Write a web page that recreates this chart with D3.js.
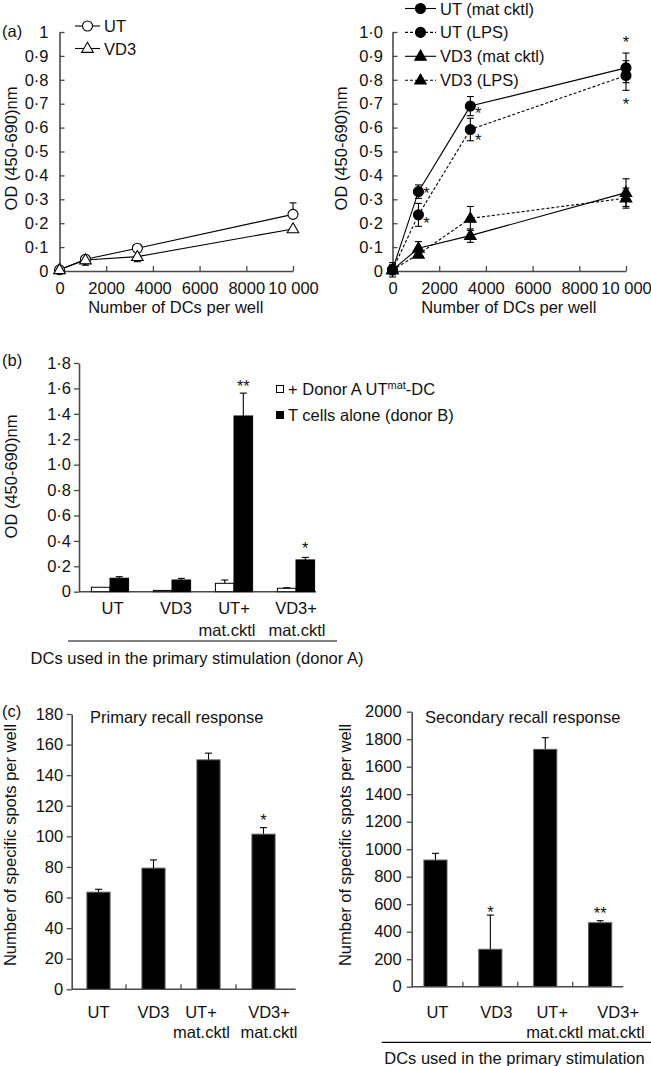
<!DOCTYPE html>
<html>
<head>
<meta charset="utf-8">
<script src="https://cdn.jsdelivr.net/npm/d3@7/dist/d3.min.js"></script>
<style>
  body { margin: 0; background: #fff; }
  svg text { font-family: "Liberation Sans", Arial, Helvetica, sans-serif; fill: #111; }
</style>
</head>
<body>
<script>
//////////////////////////////////////////////////////////////////////////////
// Data

// (a) OD vs number of DCs per well
const doses = [0, 1111, 3333, 10000];
const doseTicks = [0, 2000, 4000, 6000, 8000, 10000];
const doseTickLabels = ["0", "2000", "4000", "6000", "8000", "10 000"];
const odTicksA = [0, 0.1, 0.2, 0.3, 0.4, 0.5, 0.6, 0.7, 0.8, 0.9, 1.0];

const utOpen = [0.005, 0.049, 0.095, 0.237];
const utOpenErr = [0, 0.005, 0.01, 0.048];
const vd3Open = [0.005, 0.046, 0.06, 0.176];
const vd3OpenErr = [0, 0.022, 0.021, 0.012];

const utMat = [0.005, 0.332, 0.69, 0.85];
const utMatErr = [0.03, 0.028, 0.04, 0.062];
const utLps = [0.005, 0.235, 0.592, 0.818];
const utLpsErr = [0.02, 0.048, 0.047, 0.062];
const vd3Mat = [0.005, 0.095, 0.148, 0.328];
const vd3MatErr = [0.02, 0.028, 0.028, 0.058];
const vd3Lps = [0.005, 0.07, 0.22, 0.305];
const vd3LpsErr = [0.01, 0.012, 0.05, 0.042];

// asterisks (centre of the glyph, data units)
const starsA = [
  { dose: 1111, od: 0.342, side: "right" },
  { dose: 1111, od: 0.216, side: "right" },
  { dose: 3333, od: 0.674, side: "right" },
  { dose: 3333, od: 0.562, side: "right" },
  { dose: 10000, od: 0.974, side: "centre" },
  { dose: 10000, od: 0.715, side: "centre" }
];

// (b) mixed lymphocyte reaction
const groups = ["UT", "VD3", "UT+", "VD3+"];
const groupsSub = ["", "", "mat.cktl", "mat.cktl"];
const odTicksB = [0, 0.2, 0.4, 0.6, 0.8, 1.0, 1.2, 1.4, 1.6, 1.8];
const donorA = [0.035, 0.01, 0.066, 0.027];
const donorAErr = [0, 0, 0.026, 0.004];
const tAlone = [0.106, 0.092, 1.383, 0.25];
const tAloneErr = [0.012, 0.013, 0.18, 0.02];
const starsB = [
  { group: "UT+", od: 1.646, text: "**" },
  { group: "VD3+", od: 0.368, text: "*" }
];

// (c) recall responses
const primary = [63.5, 79.2, 150, 101.4];
const primaryErr = [1.9, 5.4, 4.4, 4.3];
const primaryTicks = [0, 20, 40, 60, 80, 100, 120, 140, 160, 180];
const primaryStars = [{ group: "VD3+", v: 113, text: "*" }];

const secondary = [921, 272, 1726, 465];
const secondaryErr = [49, 249, 85, 15];
const secondaryTicks = [0, 200, 400, 600, 800, 1000, 1200, 1400, 1600, 1800, 2000];
const secondaryStars = [
  { group: "VD3", v: 568, text: "*" },
  { group: "VD3+", v: 563, text: "**" }
];

//////////////////////////////////////////////////////////////////////////////
// Canvas and helpers

const FS = 16.5;
const svg = d3.select("body").append("svg")
    .attr("width", 651)
    .attr("height", 1066);

const fmtDot = d => d === 0 ? "0" : d3.format(".1f")(d).replace(".", "\u00b7");

function styleAxis(g) {
  g.attr("font-size", FS).attr("font-family", null);
  g.select(".domain").attr("stroke", "#4a4a4a").attr("stroke-width", 1.6);
  g.selectAll(".tick line").attr("stroke", "#4a4a4a").attr("stroke-width", 1.3);
}

function errBar(g, x, y0, y1) {
  g.append("line").attr("x1", x).attr("x2", x).attr("y1", y0).attr("y2", y1)
      .attr("stroke", "#000").attr("stroke-width", 1.1);
  g.append("line").attr("x1", x - 3.5).attr("x2", x + 3.5).attr("y1", y1).attr("y2", y1)
      .attr("stroke", "#000").attr("stroke-width", 1.1);
}

function marker(g, type, filled, x, y) {
  const m = type === "circle"
    ? g.append("circle").attr("cx", x).attr("cy", y).attr("r", 5)
    : g.append("path").attr("d", d3.symbol().type(d3.symbolTriangle).size(58)())
        .attr("transform", `translate(${x},${y + 0.5})`);
  m.attr("fill", filled ? "#000" : "#fff").attr("stroke", "#000").attr("stroke-width", 1.1);
}

function text(x, y, str, anchor, size) {
  return svg.append("text").attr("x", x).attr("y", y)
      .attr("font-size", size || FS)
      .attr("text-anchor", anchor || "start")
      .text(str);
}

function vLabel(x, y, str) {
  svg.append("text")
      .attr("transform", `translate(${x},${y}) rotate(-90)`)
      .attr("font-size", FS)
      .attr("text-anchor", "middle")
      .text(str);
}

//////////////////////////////////////////////////////////////////////////////
// (a) line panels

function linePanel(cfg) {
  const x = d3.scaleLinear().domain([0, 10000]).range(cfg.xRange);
  const y = d3.scaleLinear().domain([0, 1]).range([271, 32]);
  const g = svg.append("g");

  g.append("g")
      .attr("transform", `translate(0,${y(0)})`)
      .call(d3.axisBottom(x).tickValues(doseTicks).tickFormat((d, i) => doseTickLabels[i])
        .tickSize(-5).tickSizeOuter(0).tickPadding(11))
      .call(styleAxis);
  g.append("g")
      .attr("transform", `translate(${x(0)},0)`)
      .call(d3.axisLeft(y).tickValues(odTicksA).tickFormat(cfg.yFmt)
        .tickSize(-5).tickSizeOuter(0).tickPadding(cfg.yPad))
      .call(styleAxis);

  const line = d3.line().x((d, i) => x(doses[i])).y(d => y(d));

  cfg.series.forEach(s => {
    s.values.forEach((v, i) => {
      const e = s.err[i];
      if (!e) return;
      const dirs = s.errDir === "both" ? [1, -1] : s.errDir === "up" ? [1] : [-1];
      dirs.forEach(k => errBar(g, x(doses[i]), y(v), y(v + k * e)));
    });
  });

  cfg.series.forEach(s => {
    g.append("path")
        .attr("d", line(s.values))
        .attr("fill", "none")
        .attr("stroke", "#000")
        .attr("stroke-width", 1.1)
        .attr("stroke-dasharray", s.dashed ? "3,2" : null);
  });

  cfg.series.forEach(s => {
    s.values.forEach((v, i) => marker(g, s.marker, s.filled, x(doses[i]), y(v)));
  });

  // legend
  const L = cfg.legend;
  cfg.series.forEach((s, i) => {
    const ly = L.y + i * L.dy;
    g.append("line").attr("x1", L.x0).attr("x2", L.x1).attr("y1", ly).attr("y2", ly)
        .attr("stroke", "#000").attr("stroke-width", 1.1)
        .attr("stroke-dasharray", s.dashed ? "3,2" : null);
    marker(g, s.marker, s.filled, (L.x0 + L.x1) / 2, ly);
    text(L.x1 + 4, ly + 6, s.name);
  });

  (cfg.stars || []).forEach(st => {
    text(x(st.dose) + (st.side === "right" ? 8 : 0), y(st.od) + 9.5, "*", "middle");
  });

  text((cfg.xRange[0] + cfg.xRange[1]) / 2 - 0.5, 312.5, "Number of DCs per well", "middle");
  vLabel(cfg.yLabelX, 148.5, "OD (450-690)nm");
}

linePanel({
  xRange: [59.5, 293],
  yFmt: d => d === 1 ? "1" : fmtDot(d),
  yPad: 11,
  yLabelX: 17,
  legend: { x0: 75, x1: 100, y: 26, dy: 22.5 },
  series: [
    { name: "UT", values: utOpen, err: utOpenErr, errDir: "up", marker: "circle", filled: false },
    { name: "VD3", values: vd3Open, err: vd3OpenErr, errDir: "down", marker: "triangle", filled: false }
  ]
});

linePanel({
  xRange: [392.5, 626],
  yFmt: d => d === 1 ? "1\u00b70" : fmtDot(d),
  yPad: 9.5,
  yLabelX: 347,
  legend: { x0: 405, x1: 436, y: 8.5, dy: 23.9 },
  stars: starsA,
  series: [
    { name: "UT (mat cktl)", values: utMat, err: utMatErr, errDir: "both", marker: "circle", filled: true },
    { name: "UT (LPS)", values: utLps, err: utLpsErr, errDir: "both", marker: "circle", filled: true, dashed: true },
    { name: "VD3 (mat cktl)", values: vd3Mat, err: vd3MatErr, errDir: "both", marker: "triangle", filled: true },
    { name: "VD3 (LPS)", values: vd3Lps, err: vd3LpsErr, errDir: "both", marker: "triangle", filled: true, dashed: true }
  ]
});

text(2, 37, "(a)");

//////////////////////////////////////////////////////////////////////////////
// (b) grouped bars

{
  const y = d3.scaleLinear().domain([0, 1.8]).range([591.7, 363]);
  const x = d3.scaleBand().domain(groups).range([79, 327]).paddingInner(0.4).paddingOuter(0.2);
  const xi = d3.scaleBand().domain(["a", "t"]).range([0, x.bandwidth()]);
  const g = svg.append("g");

  g.append("g")
      .attr("transform", `translate(79,0)`)
      .call(d3.axisLeft(y).tickValues(odTicksB).tickFormat(fmtDot)
        .tickSize(5).tickSizeOuter(0).tickPadding(3))
      .call(styleAxis);
  g.append("line").attr("x1", 79).attr("x2", 316).attr("y1", y(0)).attr("y2", y(0))
      .attr("stroke", "#4a4a4a").attr("stroke-width", 1.6);

  groups.forEach((grp, i) => {
    [["a", donorA, donorAErr, "#fff"], ["t", tAlone, tAloneErr, "#000"]].forEach(([k, vals, errs, fill]) => {
      const bx = x(grp) + xi(k);
      g.append("rect")
          .attr("x", bx).attr("width", xi.bandwidth())
          .attr("y", y(vals[i])).attr("height", y(0) - y(vals[i]))
          .attr("fill", fill).attr("stroke", "#000").attr("stroke-width", 1);
      if (errs[i]) errBar(g, bx + xi.bandwidth() / 2, y(vals[i]), y(vals[i] + errs[i]));
    });
  });

  starsB.forEach(st => {
    text(x(st.group) + xi("t") + xi.bandwidth() / 2, y(st.od) + 9.5, st.text, "middle");
  });

  const dx1 = [2.5, 4, 0, 0], dx2 = [0, 0, -7, 1];
  groups.forEach((grp, i) => {
    const cx = x(grp) + x.bandwidth() / 2;
    text(cx + dx1[i], 614, grp, "middle");
    if (groupsSub[i]) text(cx + dx2[i], 636, groupsSub[i], "middle");
  });

  g.append("line").attr("x1", 68).attr("x2", 337).attr("y1", 641).attr("y2", 641)
      .attr("stroke", "#000").attr("stroke-width", 1.2);
  text(197, 664, "DCs used in the primary stimulation (donor A)", "middle");

  // legend
  g.append("rect").attr("x", 276.5).attr("y", 385.5).attr("width", 7).attr("height", 7)
      .attr("fill", "#fff").attr("stroke", "#000").attr("stroke-width", 1);
  g.append("rect").attr("x", 276.5).attr("y", 411.5).attr("width", 7).attr("height", 7)
      .attr("fill", "#000").attr("stroke", "#000").attr("stroke-width", 1);
  const t1 = text(288, 395, "+ Donor A UT");
  t1.append("tspan").attr("font-size", 11).attr("dy", -6).text("mat");
  t1.append("tspan").attr("dy", 6).text("-DC");
  text(288, 421, "T cells alone (donor B)");

  vLabel(17, 476.5, "OD (450-690)nm");
  text(2, 366, "(b)");
}

//////////////////////////////////////////////////////////////////////////////
// (c) single bar panels

function barPanel(cfg) {
  const y = d3.scaleLinear().domain(cfg.domain).range([cfg.y0, cfg.y1]);
  const x = d3.scaleBand().domain(groups).range(cfg.xRange).paddingInner(0.58).paddingOuter(0.29);
  const g = svg.append("g");

  g.append("g")
      .attr("transform", `translate(${cfg.axisX},0)`)
      .call(d3.axisLeft(y).tickValues(cfg.ticks).tickFormat(d3.format("d"))
        .tickSize(5).tickSizeOuter(0).tickPadding(cfg.yPad))
      .call(styleAxis);
  g.append("line").attr("x1", cfg.axisX).attr("x2", cfg.axisEnd).attr("y1", y(0)).attr("y2", y(0))
      .attr("stroke", "#4a4a4a").attr("stroke-width", 1.6);

  // separator ticks between groups
  groups.slice(1).forEach(grp => {
    const sx = x(grp) - x.step() * x.paddingInner() / 2;
    g.append("line").attr("x1", sx).attr("x2", sx).attr("y1", y(0)).attr("y2", y(0) - 5)
        .attr("stroke", "#4a4a4a").attr("stroke-width", 1.3);
  });

  groups.forEach((grp, i) => {
    const v = cfg.values[i];
    errBar(g, x(grp) + x.bandwidth() / 2, y(v), y(v + cfg.err[i]));
    g.append("rect")
        .attr("x", x(grp)).attr("width", x.bandwidth())
        .attr("y", y(v)).attr("height", y(0) - y(v))
        .attr("fill", "#000").attr("stroke", "#555").attr("stroke-width", 1);
  });

  cfg.stars.forEach(st => {
    text(x(st.group) + x.bandwidth() / 2, y(st.v) + 9.5, st.text, "middle");
  });

  groups.forEach((grp, i) => {
    const cx = x(grp) + x.bandwidth() / 2;
    text(cx + cfg.dx1[i], 1017.5, grp, "middle");
    if (groupsSub[i]) text(cx + cfg.dx2[i], 1037.5, groupsSub[i], "middle");
  });

  text(cfg.titleX, 722.5, cfg.title);
  vLabel(cfg.yLabelX, 845, "Number of specific spots per well");
}

barPanel({
  domain: [0, 180], y0: 989.3, y1: 714,
  xRange: [71, 291], axisX: 71.7, axisEnd: 295.7,
  ticks: primaryTicks, yPad: 3.5,
  values: primary, err: primaryErr, stars: primaryStars,
  dx1: [0, 0, -7.5, 5.5], dx2: [0, 0, -7, 5.5],
  title: "Primary recall response", titleX: 90,
  yLabelX: 15.5
});

barPanel({
  domain: [0, 2000], y0: 986.7, y1: 711.7,
  xRange: [408, 627.6], axisX: 411.7, axisEnd: 623.3,
  ticks: secondaryTicks, yPad: 5,
  values: secondary, err: secondaryErr, stars: secondaryStars,
  dx1: [2, 6, 7, 18], dx2: [0, 0, 9.5, 16],
  title: "Secondary recall response", titleX: 425,
  yLabelX: 350.5
});

svg.append("line").attr("x1", 381.7).attr("x2", 651).attr("y1", 1042.3).attr("y2", 1042.3)
    .attr("stroke", "#000").attr("stroke-width", 1.2);
text(514.5, 1064, "DCs used in the primary stimulation", "middle");
text(2, 717, "(c)");
</script>
</body>
</html>
